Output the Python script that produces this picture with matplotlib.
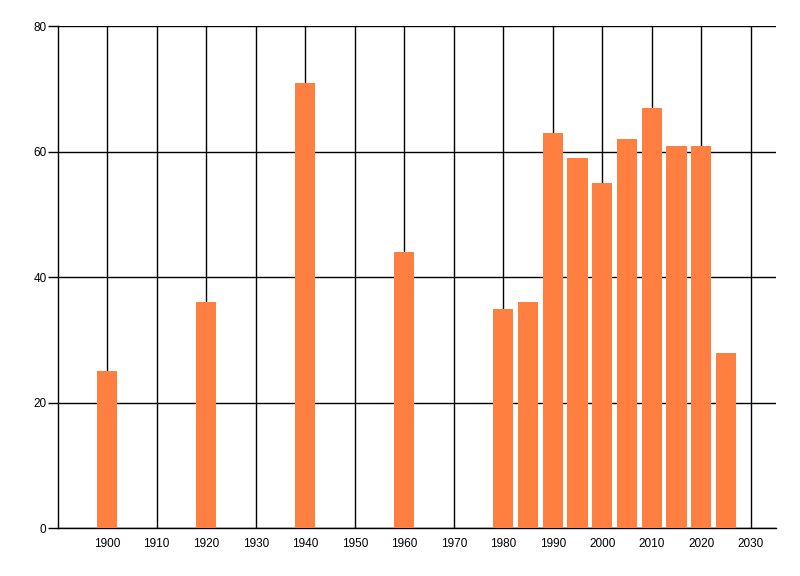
import matplotlib
matplotlib.use("Agg")
import matplotlib.pyplot as plt

years = [1900, 1920, 1940, 1960, 1980, 1985, 1990, 1995, 2000, 2005, 2010, 2015, 2020, 2025]
values = [25, 36, 71, 44, 35, 36, 63, 59, 55, 62, 67, 61, 61, 28]
x_ticks = list(range(1900, 2031, 10))
y_ticks = [0, 20, 40, 60, 80]

plt.rcParams['font.family'] = ['Liberation Sans', 'DejaVu Sans']

fig = plt.figure(figsize=(8, 5.76), dpi=100)
ax = fig.add_axes([0.0721, 0.0828, 0.9695 - 0.0721, 0.9543 - 0.0828])

ax.bar(years, values, width=4.1, color='#FF7F40', zorder=3)

ax.set_xlim(1890, 2035)
ax.set_ylim(0, 80)
ax.set_xticks(x_ticks)
ax.set_xticklabels([str(t) for t in x_ticks])
ax.set_yticks(y_ticks)
ax.set_yticklabels([str(t) for t in y_ticks])

ax.grid(True, color='black', linewidth=1.0, zorder=0)
ax.set_axisbelow(True)

for s in ['top', 'right']:
    ax.spines[s].set_visible(False)
for s in ['left', 'bottom']:
    ax.spines[s].set_color('black')
    ax.spines[s].set_linewidth(1.0)

ax.tick_params(axis='x', length=0, pad=7, labelsize=8.5, colors='black')
ax.tick_params(axis='y', length=7, width=1.0, pad=1, labelsize=8.5, colors='black', direction='out')

fig.savefig('out.png', dpi=100)
